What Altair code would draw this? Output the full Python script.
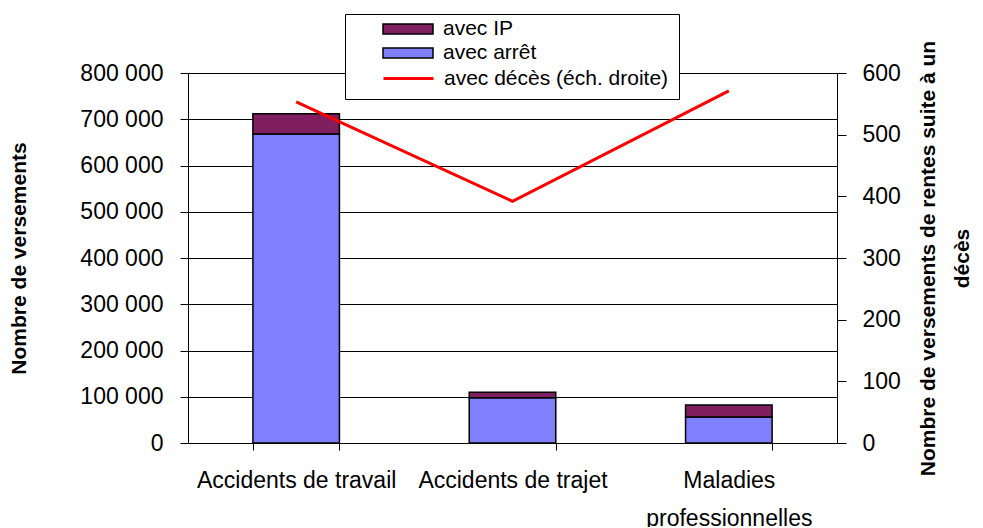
import altair as alt
import pandas as pd

categories = ["Accidents de travail", "Accidents de trajet", "Maladies professionnelles"]
avec_arret = [668000, 98000, 56000]
avec_ip = [44000, 12000, 26000]
avec_deces = [553, 392, 571]
series_names = ["avec IP", "avec arrêt", "avec décès (éch. droite)"]
series_colors = ["#7F1F5F", "#8080FF", "#FF0000"]
left_ticks = [0, 100000, 200000, 300000, 400000, 500000, 600000, 700000, 800000]
right_ticks = [0, 100, 200, 300, 400, 500, 600]

rows = []
for c, a, i in zip(categories, avec_arret, avec_ip):
    rows.append({"cat": c, "series": series_names[1], "value": a, "ord": 0})
    rows.append({"cat": c, "series": series_names[0], "value": i, "ord": 1})
bars_df = pd.DataFrame(rows)
line_df = pd.DataFrame({"cat": categories, "value": avec_deces, "series": series_names[2]})

FONT = "Liberation Sans"
RECT = "M-2.5,-0.5H2.5V0.5H-2.5Z"
NB = "\u00a0"

fill = alt.Fill(
    "series:N",
    scale=alt.Scale(domain=series_names[:2], range=series_colors[:2]),
    legend=alt.Legend(
        orient="none", legendX=157, legendY=-55, title=None, zindex=2,
        symbolSize=400, symbolType=RECT, symbolStrokeColor="black", symbolStrokeWidth=1.5,
        symbolOpacity=1,
        labelFont=FONT, labelFontSize=21, labelColor="black", labelOffset=24,
        labelLimit=500, padding=0, rowPadding=3, symbolOffset=52,
    ),
)

stroke = alt.Stroke(
    "series:N",
    scale=alt.Scale(domain=series_names[2:], range=series_colors[2:]),
    legend=alt.Legend(
        orient="none", legendX=157, legendY=-59, zindex=1,
        title=NB, titleFontSize=36, titlePadding=7,
        fillColor="white", strokeColor="black",
        symbolSize=400, symbolType="M-2.5,0H2.5", symbolStrokeWidth=3, symbolOpacity=1,
        labelFont=FONT, labelFontSize=21, labelColor="black", labelOffset=24,
        labelLimit=500, padding=10, symbolOffset=42,
    ),
)

x = alt.X(
    "cat:N", sort=categories,
    scale=alt.Scale(paddingInner=0.6, paddingOuter=0.3),
    axis=alt.Axis(
        title=None, labelAngle=0, tickBand="extent", tickSize=7, tickColor="black",
        domainColor="black", labelFont=FONT, labelFontSize=23, labelColor="black",
        labelPadding=19, labelLineHeight=38, labelLimit=400,
        labelExpr="length(datum.label) > 22 ? split(datum.label, ' ') : datum.label",
    ),
)

bar = alt.Chart(bars_df).mark_bar(stroke="black", strokeWidth=1.5, opacity=1).encode(
    x=x,
    y=alt.Y(
        "value:Q", stack="zero", scale=alt.Scale(domain=[0, 800000]),
        axis=alt.Axis(
            values=left_ticks, labelExpr="replace(format(datum.value, ','), ',', ' ')",
            grid=True, gridColor="black", gridWidth=1, tickColor="black", tickSize=8,
            domainColor="black", labelFont=FONT, labelFontSize=23, labelColor="black",
            labelPadding=17, title="Nombre de versements", titleFont=FONT,
            titleFontSize=21, titleFontWeight="bold", titleColor="black", titlePadding=50,
        ),
    ),
    fill=fill,
    order=alt.Order("ord:Q"),
)

line = alt.Chart(line_df).mark_line(strokeWidth=3).encode(
    x=x,
    y=alt.Y(
        "value:Q", scale=alt.Scale(domain=[0, 600]),
        axis=alt.Axis(
            orient="right", values=right_ticks, grid=False, tickColor="black", tickSize=9,
            domainColor="black", labelFont=FONT, labelFontSize=23, labelColor="black",
            labelPadding=16,
            title=["Nombre de versements de rentes suite à un", "décès"], titleFont=FONT,
            titleFontSize=21, titleFontWeight="bold", titleColor="black", titleAngle=270,
            titleLineHeight=34, titlePadding=4,
        ),
    ),
    stroke=stroke,
)

chart = alt.layer(bar, line).resolve_scale(y="independent").properties(
    width=649, height=370,
    autosize=alt.AutoSizeParams(type="none"),
    padding={"left": 180, "top": 65, "right": 138, "bottom": 84},
).configure_view(stroke=None)

chart.save("out.html", embed_options={"renderer": "svg", "actions": False})
